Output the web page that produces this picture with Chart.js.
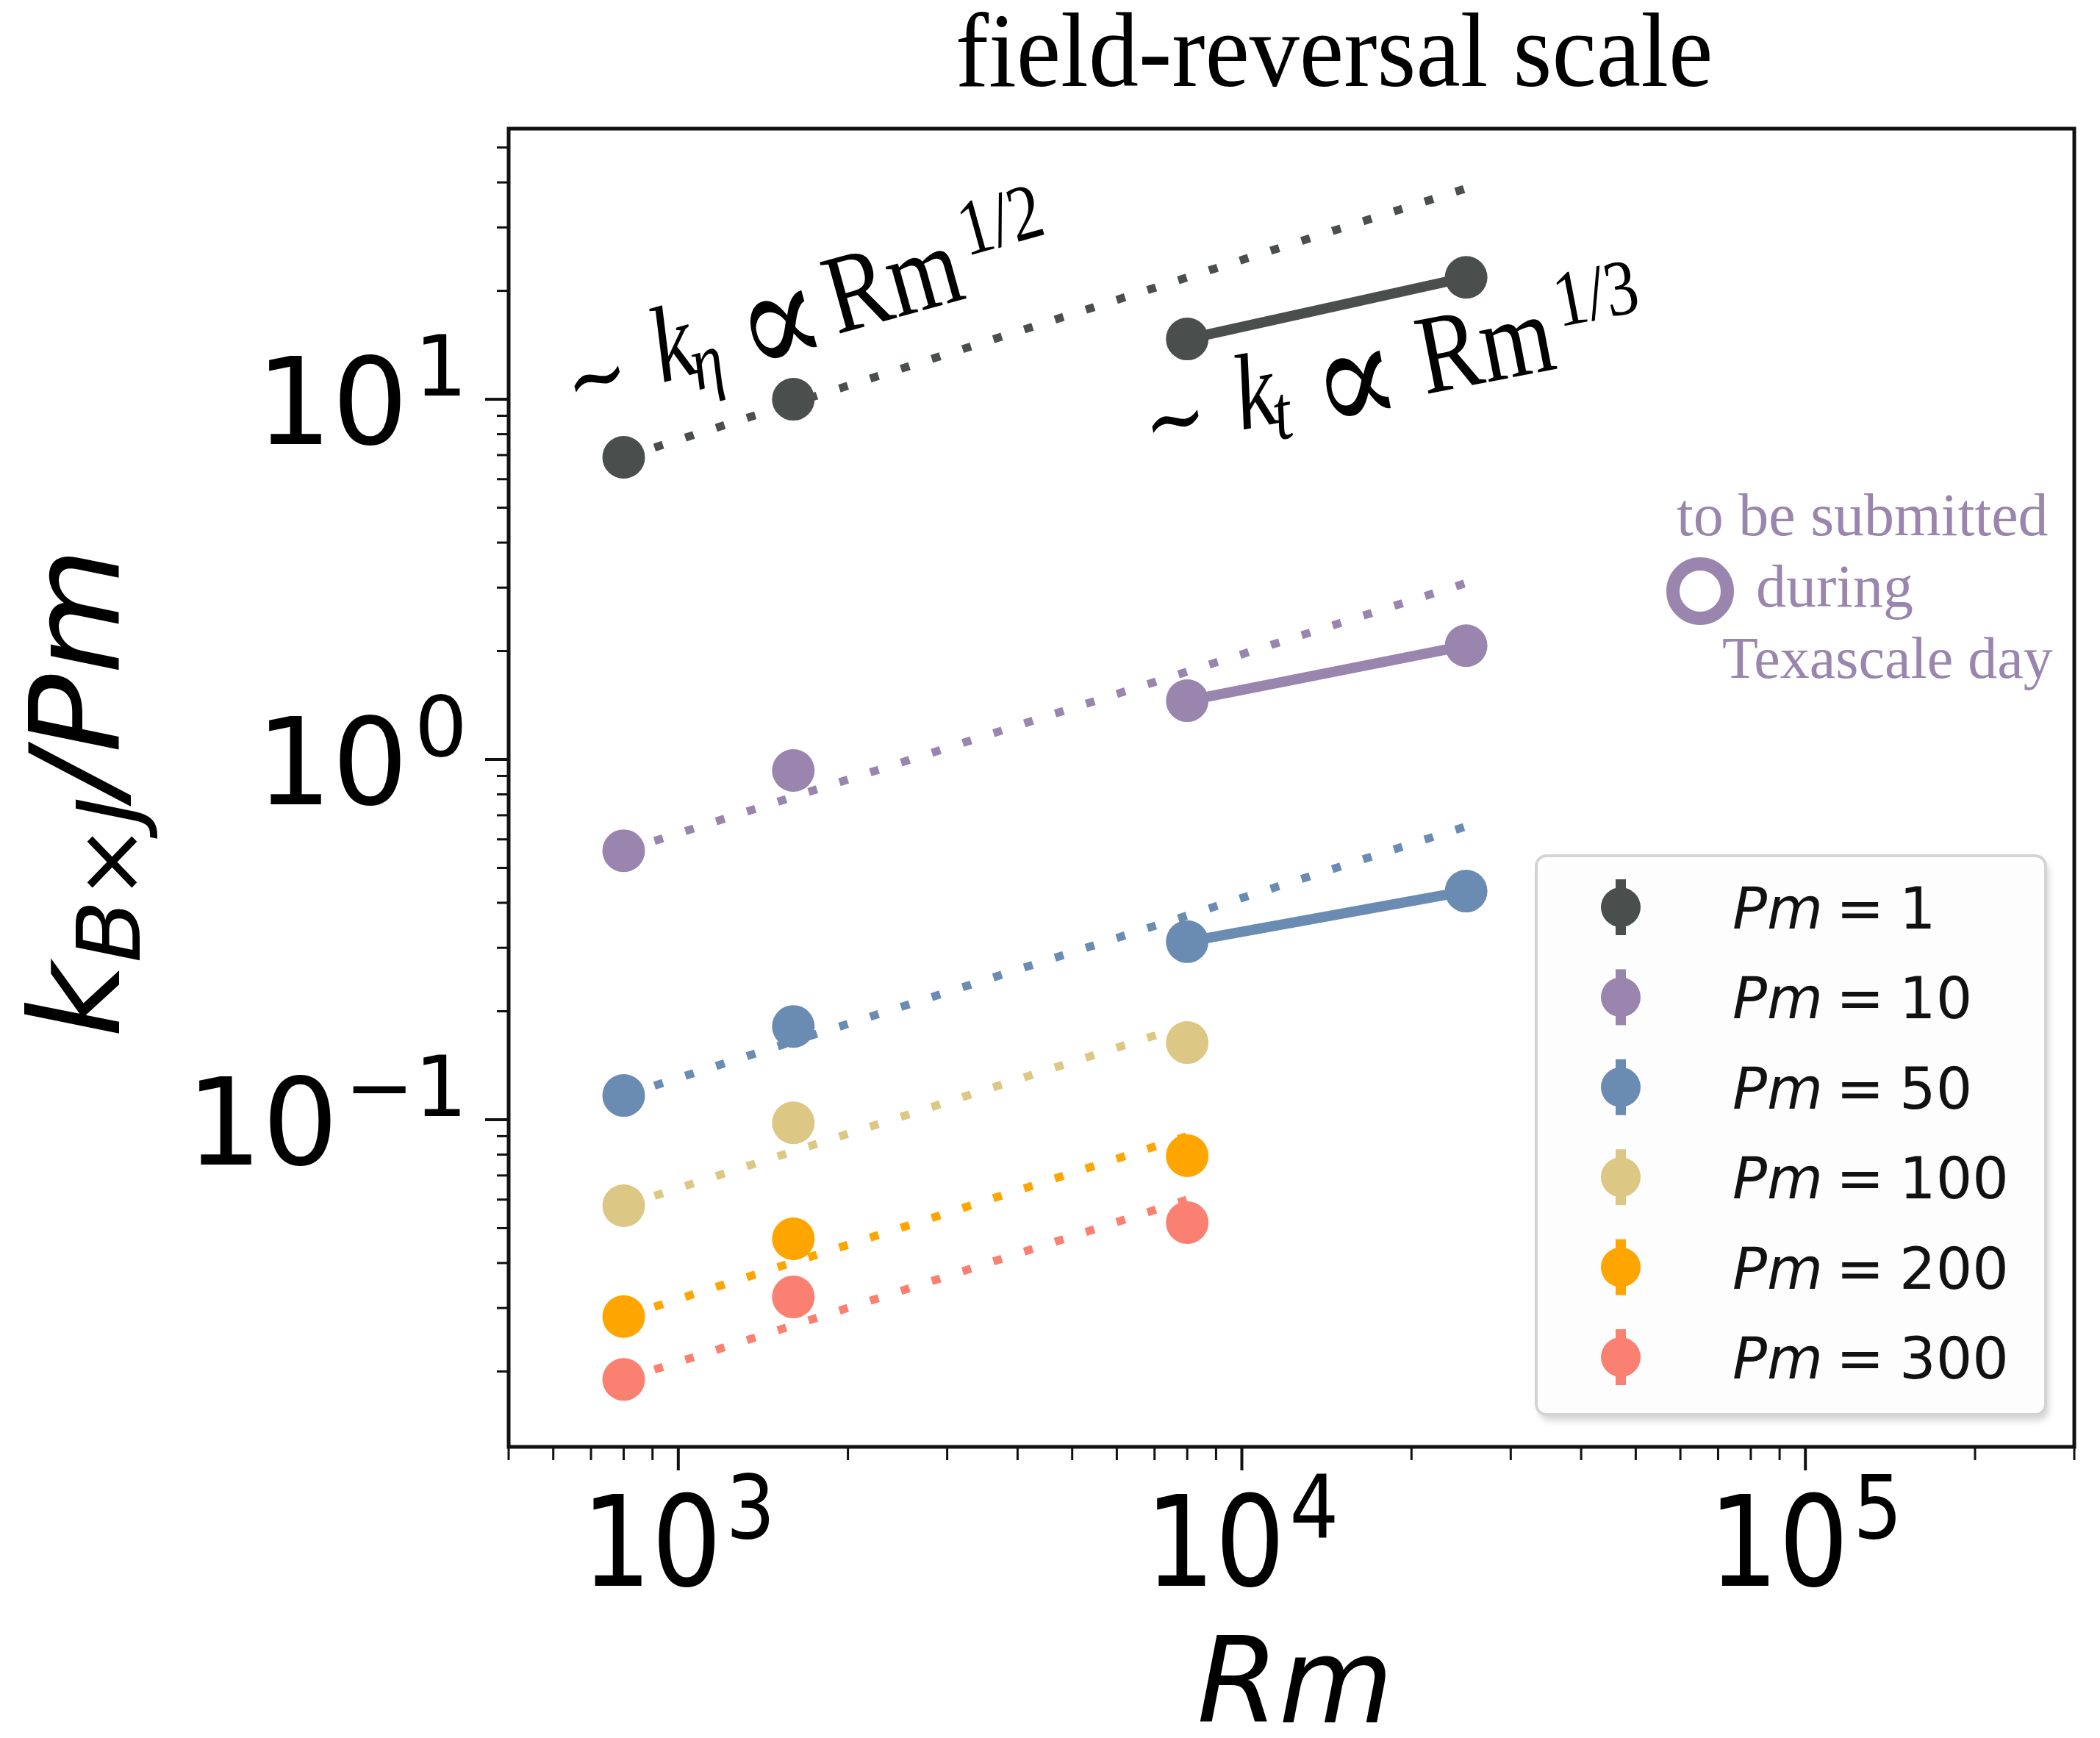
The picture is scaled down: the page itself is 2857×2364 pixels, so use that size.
<!DOCTYPE html>
<html>
<head>
<meta charset="utf-8">
<script src="https://cdn.jsdelivr.net/npm/chart.js@4.4.0/dist/chart.umd.min.js"></script>
<style>
  html, body { margin: 0; padding: 0; background: #fff; }
  canvas { display: block; }
</style>
</head>
<body>
<canvas id="myChart" width="2857" height="2364"></canvas>
<script>
// Rm of the runs
var rmValues = [800, 1600, 8000, 25000];

// k_BxJ / Pm for every Pm
var pm1   = [6.9, 10.0, 14.7, 21.8];
var pm10  = [0.558, 0.932, 1.456, 2.07];
var pm50  = [0.1167, 0.1815, 0.312, 0.431];
var pm100 = [0.0577, 0.098, 0.1637];
var pm200 = [0.0284, 0.0467, 0.0794];
var pm300 = [0.019, 0.0322, 0.0518];

var pmLabels = ["1", "10", "50", "100", "200", "300"];
var colors = ["#4a4f4e", "#9985ae", "#6a8cb2", "#dcc785", "#ffa500", "#fa8072"];

// dotted guide lines (Rm^1/2), end points
var fitRmLong  = [800, 25000];
var fitRmShort = [800, 8000];
var fit1   = [6.9, 38.5];
var fit10  = [0.558, 3.09];
var fit50  = [0.1167, 0.652];
var fit100 = [0.0577, 0.183];
var fit200 = [0.0284, 0.09];
var fit300 = [0.019, 0.06];

// tick labels
var xTicks = [1e3, 1e4, 1e5];
var xTickExp = ["3", "4", "5"];
var yTicks = [0.1, 1, 10];
var yTickExp = ["\u22121", "0", "1"];

var pointSets = [pm1, pm10, pm50, pm100, pm200, pm300];
var fitSets = [fit1, fit10, fit50, fit100, fit200, fit300];
var fitRms = [fitRmLong, fitRmLong, fitRmLong, fitRmShort, fitRmShort, fitRmShort];

var datasets = [];
pointSets.forEach(function (vals, i) {
  datasets.push({
    type: 'scatter',
    label: 'Pm = ' + pmLabels[i],
    data: vals.map(function (v, j) { return {x: rmValues[j], y: v}; }),
    backgroundColor: colors[i],
    borderWidth: 0,
    pointRadius: 29,
    pointHoverRadius: 29,
    order: 1
  });
});
fitSets.forEach(function (vals, i) {
  datasets.push({
    type: 'line',
    data: vals.map(function (v, j) { return {x: fitRms[i][j], y: v}; }),
    borderColor: colors[i],
    borderWidth: 11,
    borderDash: [12, 32],
    borderCapStyle: 'butt',
    pointRadius: 0,
    fill: false,
    order: 2
  });
});
// solid segments between the two largest Rm
[pm1, pm10, pm50].forEach(function (vals, i) {
  datasets.push({
    type: 'line',
    data: [{x: rmValues[2], y: vals[2]}, {x: rmValues[3], y: vals[3]}],
    borderColor: colors[i],
    borderWidth: 14,
    pointRadius: 0,
    fill: false,
    order: 2
  });
});

// pieces with "w" are symbols sized to an ink width and centred at height "cv"
function drawParts(ctx, parts, x, y) {
  parts.forEach(function (p) {
    if (p.w) {
      ctx.font = '100px ' + p.fam;
      var mt = ctx.measureText(p.t);
      var ink = mt.actualBoundingBoxLeft + mt.actualBoundingBoxRight;
      var size = 100 * p.w / ink;
      ctx.font = size + 'px ' + p.fam;
      mt = ctx.measureText(p.t);
      var mid = (mt.actualBoundingBoxAscent - mt.actualBoundingBoxDescent) / 2;
      ctx.fillText(p.t, x + p.u + mt.actualBoundingBoxLeft, y + p.cv + mid);
      return;
    }
    ctx.font = p.f;
    ctx.fillText(p.t, x + p.u, y + (p.dy || 0));
  });
}
function runWidth(ctx, parts) {
  var w = 0;
  parts.forEach(function (p) {
    ctx.font = p.f;
    w += (p.dx || 0) + ctx.measureText(p.t).width;
  });
  return w;
}
function drawRun(ctx, parts, x, y) {
  var cx = x;
  parts.forEach(function (p) {
    ctx.font = p.f;
    cx += p.dx || 0;
    ctx.fillText(p.t, cx, y + (p.dy || 0));
    cx += ctx.measureText(p.t).width;
  });
}

var decor = {
  id: 'decor',
  afterDatasetsDraw: function (chart) {
    var ctx = chart.ctx, a = chart.chartArea;
    var xs = chart.scales.x, ys = chart.scales.y;
    ctx.save();
    ctx.fillStyle = '#000';
    ctx.strokeStyle = '#111';
    ctx.textBaseline = 'alphabetic';
    ctx.textAlign = 'left';

    // tick marks
    var e, m, v, p;
    for (e = 2; e <= 5; e++) {
      for (m = 1; m <= 9; m++) {
        v = m * Math.pow(10, e);
        if (v < xs.min * 0.999 || v > xs.max * 1.001) continue;
        p = xs.getPixelForValue(v);
        ctx.lineWidth = m === 1 ? 4 : 3;
        ctx.beginPath();
        ctx.moveTo(p, a.bottom);
        ctx.lineTo(p, a.bottom + (m === 1 ? 32 : 18));
        ctx.stroke();
      }
    }
    for (e = -2; e <= 1; e++) {
      for (m = 1; m <= 9; m++) {
        v = m * Math.pow(10, e);
        if (v < ys.min || v > ys.max) continue;
        p = ys.getPixelForValue(v);
        ctx.lineWidth = m === 1 ? 4 : 3;
        ctx.beginPath();
        ctx.moveTo(a.left, p);
        ctx.lineTo(a.left - (m === 1 ? 32 : 16), p);
        ctx.stroke();
      }
    }

    // frame
    ctx.lineWidth = 5;
    ctx.strokeRect(a.left, a.top, a.right - a.left, a.bottom - a.top);

    // x tick labels
    xTicks.forEach(function (t, i) {
      var parts = [
        {t: '10', f: '150px "DejaVu Sans"'},
        {t: xTickExp[i], f: '105px "DejaVu Sans"', dx: 6, dy: -57}
      ];
      var w = runWidth(ctx, parts);
      ctx.save();
      ctx.translate(xs.getPixelForValue(t), 2157);
      ctx.scale(1, 1.14);
      drawRun(ctx, parts, -w / 2, 0);
      ctx.restore();
    });
    // y tick labels
    yTicks.forEach(function (t, i) {
      var parts = [
        {t: '10', f: '152px "DejaVu Sans"'},
        {t: yTickExp[i], f: '106px "DejaVu Sans"', dx: 8, dy: -61}
      ];
      var w = runWidth(ctx, parts);
      ctx.save();
      ctx.translate(636, ys.getPixelForValue(t) + 61);
      ctx.scale(1.07, 1.08);
      drawRun(ctx, parts, -w, 0);
      ctx.restore();
    });

    // axis titles
    ctx.font = 'italic 160px "DejaVu Sans"';
    ctx.textAlign = 'center';
    ctx.fillText('Rm', (a.left + a.right) / 2 + 5, 2342);
    ctx.textAlign = 'left';

    var yl = [
      {t: 'k', f: 'italic 170px "DejaVu Sans"'},
      {t: 'B', f: 'italic 119px "DejaVu Sans"', dy: 28},
      {t: '\u00d7', f: '119px "DejaVu Sans"', dy: 28},
      {t: 'J', f: 'italic 119px "DejaVu Sans"', dy: 28},
      {t: '/Pm', f: 'italic 170px "DejaVu Sans"'}
    ];
    var yw = runWidth(ctx, yl);
    ctx.save();
    ctx.translate(162, (a.top + a.bottom) / 2 + 7);
    ctx.rotate(-Math.PI / 2);
    ctx.scale(667 / yw, 1);
    drawRun(ctx, yl, -yw / 2, 0);
    ctx.restore();

    // title
    ctx.save();
    ctx.translate(1815, 117);
    ctx.scale(1, 1.06);
    ctx.font = '136px "Liberation Serif"';
    ctx.textAlign = 'center';
    ctx.fillText('field-reversal scale', 0, 0);
    ctx.restore();
    ctx.textAlign = 'left';

    // scaling annotations
    var serif = '"Liberation Serif", "DejaVu Serif"';
    var sym = '"DejaVu Serif"';
    var ann1 = [
      {t: '\u223c', fam: sym, w: 66, cv: -24, u: 4},
      {t: 'k', f: 'italic 122px ' + serif, u: 121},
      {t: '\u03b7', f: 'italic 88px ' + serif, u: 165, dy: 19},
      {t: '\u221d', fam: sym, w: 82, cv: -25, u: 256},
      {t: 'Rm', f: '128px ' + serif, u: 368},
      {t: '1/2', f: '90px ' + serif, u: 566, dy: -46}
    ];
    ctx.save();
    ctx.translate(784, 553);
    ctx.rotate(-15.5 * Math.PI / 180);
    ctx.scale(1, 1.2);
    drawParts(ctx, ann1, 0, 0);
    ctx.restore();

    var ann2 = [
      {t: '\u223c', fam: sym, w: 66, cv: -24, u: 2},
      {t: 'k', f: 'italic 122px ' + serif, u: 121},
      {t: 't', f: 'italic 88px ' + serif, u: 167, dy: 19},
      {t: '\u221d', fam: sym, w: 82, cv: -25, u: 245},
      {t: 'Rm', f: '128px ' + serif, u: 376},
      {t: '1/3', f: '90px ' + serif, u: 572, dy: -46}
    ];
    ctx.save();
    ctx.translate(1570, 608);
    ctx.rotate(-11 * Math.PI / 180);
    ctx.scale(1, 1.2);
    drawParts(ctx, ann2, 0, 0);
    ctx.restore();

    // "to be submitted" note
    ctx.fillStyle = '#9985ae';
    ctx.font = '82px "Liberation Serif"';
    ctx.fillText('to be submitted', 2281, 728);
    ctx.fillText('during', 2389, 825);
    ctx.font = '80px "Liberation Serif"';
    ctx.fillText('Texascale day', 2343, 922);
    ctx.strokeStyle = '#9985ae';
    ctx.lineWidth = 18;
    ctx.beginPath();
    ctx.arc(2313, 804, 37, 0, Math.PI * 2);
    ctx.stroke();

    // legend
    var lx = 2090, ly = 1164, lw = 693, lh = 760, r = 14;
    ctx.save();
    ctx.shadowColor = 'rgba(0,0,0,0.18)';
    ctx.shadowBlur = 10;
    ctx.shadowOffsetX = 4;
    ctx.shadowOffsetY = 8;
    ctx.fillStyle = 'rgba(255,255,255,0.95)';
    ctx.beginPath();
    ctx.roundRect(lx, ly, lw, lh, r);
    ctx.fill();
    ctx.restore();
    ctx.strokeStyle = '#d4d4d4';
    ctx.lineWidth = 4;
    ctx.beginPath();
    ctx.roundRect(lx, ly, lw, lh, r);
    ctx.stroke();

    pmLabels.forEach(function (lab, i) {
      var cy = 1234 + i * 122.4;
      ctx.fillStyle = colors[i];
      ctx.beginPath();
      ctx.arc(2205, cy, 27, 0, Math.PI * 2);
      ctx.fill();
      ctx.fillRect(2198, cy - 38, 14, 76);
      ctx.fillStyle = '#111';
      drawParts(ctx, [
        {t: 'Pm', f: 'italic 78px "DejaVu Sans"', u: 0},
        {t: '=', f: '78px "DejaVu Sans"', u: 141},
        {t: lab, f: '78px "DejaVu Sans"', u: 227}
      ], 2357, cy + 29);
    });

    ctx.restore();
  }
};

new Chart(document.getElementById('myChart'), {
  type: 'scatter',
  data: {datasets: datasets},
  options: {
    responsive: false,
    animation: false,
    devicePixelRatio: 1,
    events: [],
    layout: {padding: {left: 692, top: 175, right: 35, bottom: 396}},
    plugins: {
      legend: {display: false},
      title: {display: false},
      tooltip: {enabled: false}
    },
    scales: {
      x: {type: 'logarithmic', min: 500, max: 3e5, display: false},
      y: {type: 'logarithmic', min: 0.01235, max: 56.4, display: false}
    }
  },
  plugins: [decor]
});
</script>
</body>
</html>
